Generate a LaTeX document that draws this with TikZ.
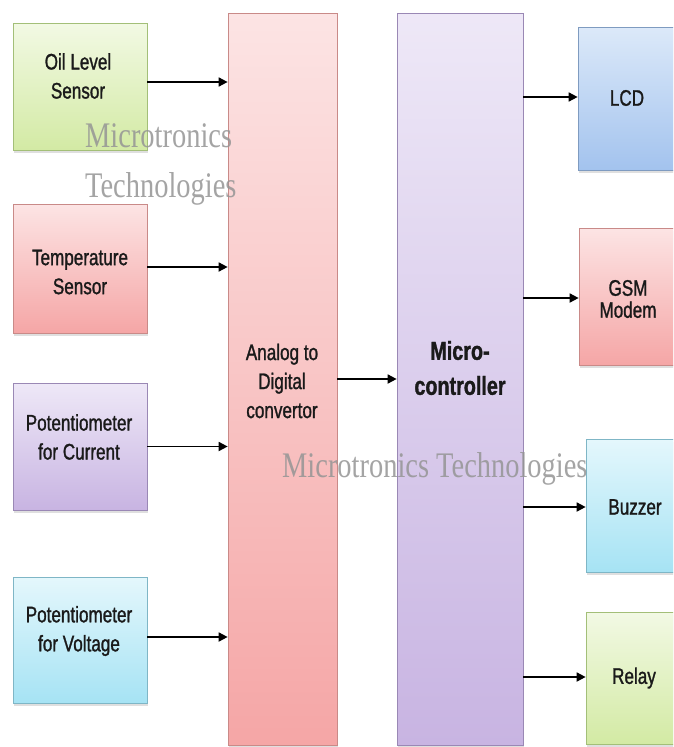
\documentclass[tikz,border=0pt]{standalone}
\usepackage{fontspec}
\setmainfont{Liberation Sans}[FakeStretch=0.76, FakeBold=1.2]
\newfontfamily\wmfont{Liberation Serif}[FakeStretch=0.79]
\usetikzlibrary{arrows.meta,shadows}
\definecolor{gTop}{HTML}{F2F9E4}\definecolor{gBot}{HTML}{D3EAA4}\definecolor{gBrd}{HTML}{A3BF78}
\definecolor{pTop}{HTML}{FCE4E4}\definecolor{pBot}{HTML}{F5A6A6}\definecolor{pBrd}{HTML}{C98A88}
\definecolor{lTop}{HTML}{EEE8F7}\definecolor{lBot}{HTML}{C8B4E2}\definecolor{lBrd}{HTML}{9A88B5}
\definecolor{cTop}{HTML}{E4F7FC}\definecolor{cBot}{HTML}{A6E3F4}\definecolor{cBrd}{HTML}{7FB6C6}
\definecolor{bTop}{HTML}{DCE9F9}\definecolor{bBot}{HTML}{A3C3EE}\definecolor{bBrd}{HTML}{7F9BC0}
\definecolor{txtc}{HTML}{1A1A1A}
\definecolor{wmc}{HTML}{959595}
\tikzset{
  box/.style={rectangle, inner sep=0pt, draw=#1Brd, top color=#1Top, bottom color=#1Bot,
    line width=0.7pt, drop shadow={shadow xshift=1pt, shadow yshift=-3pt, opacity=0.25}},
  lbl/.style={inner sep=0pt, align=center, text=txtc, font=\fontsize{22.5}{29}\selectfont},
  arr/.style={line width=1.7pt, -{Triangle[length=9pt,width=9pt]}},
  wm/.style={inner sep=0pt, anchor=base west, text=wmc, text opacity=0.85, font=\wmfont\fontsize{36}{40}\selectfont}
}
\begin{document}
\begin{tikzpicture}[x=1pt,y=-1pt]
\useasboundingbox (0,0) rectangle (673,747);
\fill[white] (0,0) rectangle (673,747);
\clip (0,0) rectangle (673,747);
% left inputs
\node[box=g, minimum width=134pt, minimum height=127pt] (oil) at (80,86.5) {};
\node[box=p, minimum width=134pt, minimum height=129pt] (temp) at (80,268.5) {};
\node[box=l, minimum width=134pt, minimum height=127pt] (cur) at (80,446.5) {};
\node[box=c, minimum width=134pt, minimum height=126pt] (volt) at (80,640) {};
% centre blocks
\node[box=p, minimum width=109pt, minimum height=732pt] (adc) at (282.5,379) {};
\node[box=l, minimum width=126pt, minimum height=732pt] (mc) at (460,379) {};
% right outputs
\node[box=b, minimum width=98pt, minimum height=143pt] (lcd) at (627,98.5) {};
\node[box=p, minimum width=98pt, minimum height=137pt] (gsm) at (628,296.5) {};
\node[box=c, minimum width=98pt, minimum height=133pt] (buzz) at (635,505.5) {};
\node[box=g, minimum width=96pt, minimum height=132pt] (relay) at (634,678) {};
% labels
\node[lbl] (oilT) at (78,76) {Oil Level\\Sensor};
\node[lbl] (tempT) at (80,272) {Temperature\\Sensor};
\node[lbl] (curT) at (79,437) {Potentiometer\\for Current};
\node[lbl] (voltT) at (79,631) {Potentiometer\\for Voltage};
\node[lbl] (adcT) at (282,381) {Analog to\\Digital\\convertor};
\node[lbl, font=\bfseries\fontsize{26}{35}\selectfont] (mcT) at (460,368) {Micro-\\controller};
\node[lbl] (lcdT) at (627,98) {LCD};
\node[lbl, font=\fontsize{22.5}{22}\selectfont] (gsmT) at (628,299) {GSM\\Modem};
\node[lbl] (buzzT) at (635,507) {Buzzer};
\node[lbl] (relayT) at (634,678) {Relay};
% connectors
\draw[arr] ([yshift=4.5pt]oil.east) -- ([yshift=4.5pt]oil.east -| adc.west);
\draw[arr] ([yshift=1.5pt]temp.east) -- ([yshift=1.5pt]temp.east -| adc.west);
\draw[arr] (cur.east) -- (cur.east -| adc.west);
\draw[arr] ([yshift=3pt]volt.east) -- ([yshift=3pt]volt.east -| adc.west);
\draw[arr] (adc.east) -- (mc.west);
\draw[arr] ([yshift=1.5pt]mc.east |- lcd.west) -- ([yshift=1.5pt]lcd.west);
\draw[arr] ([yshift=-1.5pt]mc.east |- gsm.west) -- ([yshift=-1.5pt]gsm.west);
\draw[arr] ([yshift=-1.5pt]mc.east |- buzz.west) -- ([yshift=-1.5pt]buzz.west);
\draw[arr] ([yshift=1pt]mc.east |- relay.west) -- ([yshift=1pt]relay.west);
% watermarks
\node[wm] (wm1) at (85,147) {Microtronics};
\node[wm] (wm2) at (85,197) {Technologies};
\node[wm] (wm3) at (282,477) {Microtronics Technologies};
\end{tikzpicture}
\end{document}
